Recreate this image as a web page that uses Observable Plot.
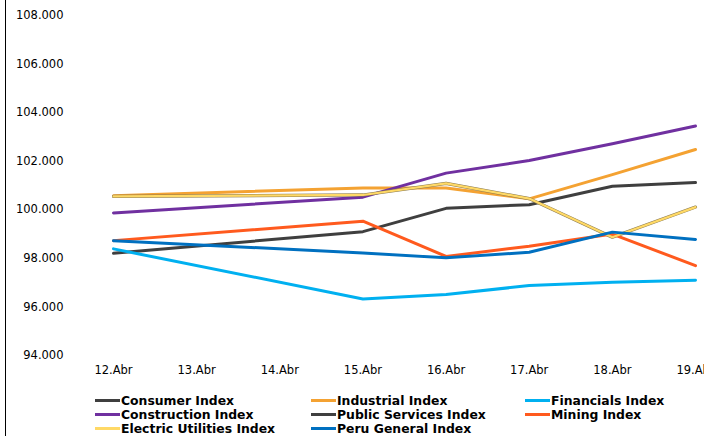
<!DOCTYPE html>
<html><head><meta charset="utf-8">
<script src="https://cdn.jsdelivr.net/npm/d3@7"></script>
<script src="https://cdn.jsdelivr.net/npm/@observablehq/plot@0.6"></script>
<style>
body{margin:0;background:#fff;}
#wrap{position:relative;width:704px;height:436px;overflow:hidden;background:#fff;}
#axisline{position:absolute;left:5px;top:0;width:1px;height:436px;background:#000;}
#legend{position:absolute;left:95px;top:393px;display:grid;grid-template-columns:216px 214px 180px;font:bold 12.4px "DejaVu Sans",Verdana,sans-serif;color:#000;}
.item{display:flex;align-items:center;height:14px;white-space:nowrap}
.sw{width:25px;height:3px;margin-right:1px}
</style></head>
<body><div id="wrap"><div id="chart"></div><div id="axisline"></div><div id="legend"></div></div>
<script>
const dates = ["2019-04-12","2019-04-15","2019-04-16","2019-04-17","2019-04-18","2019-04-19"];
const tickDates = ["2019-04-12","2019-04-13","2019-04-14","2019-04-15","2019-04-16","2019-04-17","2019-04-18","2019-04-19"];
const tickLabels = ["12.Abr","13.Abr","14.Abr","15.Abr","16.Abr","17.Abr","18.Abr","19.Abr"];
const seriesNames = ["Consumer Index","Industrial Index","Financials Index","Construction Index","Public Services Index","Mining Index","Electric Utilities Index","Peru General Index"];
const seriesColors = ["#3f3f3f","#f4a232","#00b0f0","#7030a0","#8a7a50","#ff5a1e","#ffd966","#0070c0"];
const consumer = [98.21, 99.10, 100.06, 100.21, 100.97, 101.12];
const industrial = [100.58, 100.90, 100.90, 100.45, 101.45, 102.48];
const financials = [98.39, 96.33, 96.51, 96.88, 97.02, 97.10];
const construction = [99.87, 100.52, 101.51, 102.03, 102.72, 103.45];
const publicServices = [100.55, 100.61, 101.09, 100.46, 98.87, 100.11];
const mining = [98.73, 99.53, 98.08, 98.50, 99.00, 97.70];
const electric = [100.55, 100.61, 101.09, 100.46, 98.87, 100.11];
const peruGeneral = [98.73, 98.22, 98.02, 98.25, 99.08, 98.78];
const yTicks = [94, 96, 98, 100, 102, 104, 106, 108];

const allValues = [consumer, industrial, financials, construction, publicServices, mining, electric, peruGeneral];
const data = [];
allValues.forEach((vals, i) => vals.forEach((v, j) => data.push({series: seriesNames[i], date: new Date(dates[j]), value: v})));

const widths = {"Public Services Index": 3.2, "Electric Utilities Index": 2.2};
const marks = seriesNames.map((name, i) => Plot.line(data.filter(d => d.series === name), {
  x: "date", y: "value", stroke: seriesColors[i], strokeWidth: widths[name] || 3, curve: "linear"
}));

const chart = Plot.plot({
  width: 704, height: 382,
  marginTop: 15, marginBottom: 27, marginLeft: 113, marginRight: 9,
  style: {fontFamily: "'DejaVu Sans', Verdana, sans-serif", fontSize: "11.5px", color: "#000"},
  x: {type: "utc", domain: [new Date(tickDates[0]), new Date(tickDates[7])], ticks: tickDates.map(d => new Date(d)),
      tickFormat: (d) => tickLabels[tickDates.indexOf(d.toISOString().slice(0,10))], tickSize: 0, tickPadding: 10, label: null},
  y: {domain: [94, 108], ticks: yTicks, tickFormat: d3.format(".3f"), tickSize: 0, tickPadding: 50, label: null},
  marks
});
document.getElementById("chart").appendChild(chart);

const legend = document.getElementById("legend");
const legendColors = ["#3f3f3f","#f4a232","#00b0f0","#7030a0","#3f3f3f","#ff5a1e","#ffd966","#0070c0"];
seriesNames.forEach((name, i) => {
  const it = document.createElement("div"); it.className = "item";
  const sw = document.createElement("span"); sw.className = "sw"; sw.style.background = legendColors[i];
  const tx = document.createElement("span"); tx.textContent = name;
  it.appendChild(sw); it.appendChild(tx); legend.appendChild(it);
});
</script></body></html>
